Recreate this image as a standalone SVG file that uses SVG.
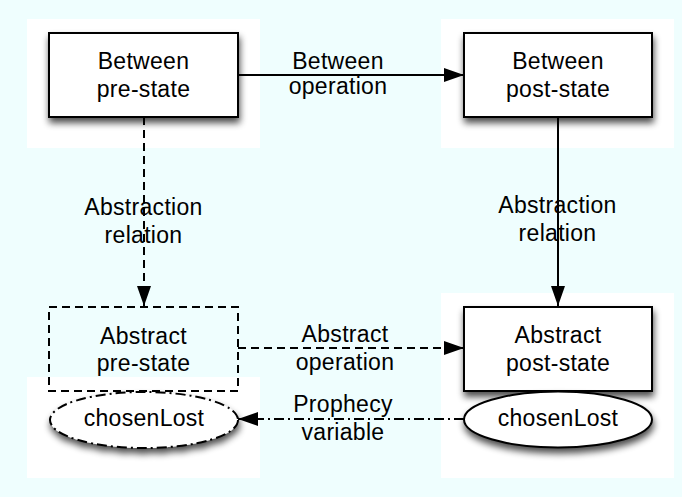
<svg xmlns="http://www.w3.org/2000/svg" width="682" height="497" viewBox="0 0 682 497">
<style>
text{font-family:"Liberation Sans",Arial,sans-serif;font-size:23px;fill:#000;text-anchor:middle;letter-spacing:0.3px}
.box{fill:#fff;stroke:#000;stroke-width:2}
.dbox{fill:none;stroke:#000;stroke-width:2;stroke-dasharray:8,5}
.ell{fill:#fff;stroke:#000;stroke-width:2}
.dd{stroke-dasharray:10,4,2,4}
.edge{fill:none;stroke:#000;stroke-width:2}
.dash{stroke-dasharray:8,5}
.dashdot{stroke-dasharray:10,4,2,4}
.bg{fill:#fff}
</style>
<defs>
<filter id="sh" x="-20%" y="-30%" width="140%" height="170%">
<feGaussianBlur in="SourceAlpha" stdDeviation="3.5"/>
<feOffset dx="1" dy="5" result="b"/>
<feComponentTransfer><feFuncA type="linear" slope="0.7"/></feComponentTransfer>
<feMerge><feMergeNode/><feMergeNode in="SourceGraphic"/></feMerge>
</filter>
<marker id="ah" markerWidth="20" markerHeight="14" refX="20" refY="7" orient="auto" markerUnits="userSpaceOnUse">
<path d="M0,0 L20,7 L0,14 Z" fill="#000"/>
</marker>
</defs>
<rect width="682" height="497" fill="#effefe"/>
<g id="backgrounds">
<rect class="bg" x="27" y="19" width="233" height="129"/>
<rect class="bg" x="441" y="19" width="233" height="129"/>
<rect class="bg" x="27" y="377" width="233" height="101"/>
<rect class="bg" x="441" y="293" width="233" height="185"/>
</g>
<g id="connectors">
<line class="edge" x1="238" y1="75" x2="464" y2="75" marker-end="url(#ah)"/>
<line class="edge dash" x1="144" y1="117" x2="144" y2="306" marker-end="url(#ah)"/>
<line class="edge" x1="558" y1="117" x2="558" y2="306" marker-end="url(#ah)"/>
<line class="edge dash" x1="238" y1="348" x2="464" y2="348" marker-end="url(#ah)"/>
<line class="edge dashdot" x1="464" y1="419" x2="238" y2="419" marker-end="url(#ah)"/>
<text x="338" y="69">Between</text>
<text x="338" y="94">operation</text>
<text x="143.5" y="215">Abstraction</text>
<text x="143.5" y="243">relation</text>
<text x="557.5" y="213">Abstraction</text>
<text x="557.5" y="241">relation</text>
<text x="345" y="342">Abstract</text>
<text x="345" y="370">operation</text>
<text x="343" y="412">Prophecy</text>
<text x="343" y="440">variable</text>
</g>
<g id="between-pre">
<rect class="box" x="49" y="33" width="189" height="84" filter="url(#sh)"/>
<text x="143.5" y="69">Between</text>
<text x="143.5" y="97">pre-state</text>
</g>
<g id="between-post">
<rect class="box" x="464" y="33" width="188" height="84" filter="url(#sh)"/>
<text x="558" y="69">Between</text>
<text x="558" y="97">post-state</text>
</g>
<g id="abstract-pre">
<rect class="dbox" x="49" y="307" width="189" height="84"/>
<text x="143.5" y="344">Abstract</text>
<text x="143.5" y="371">pre-state</text>
</g>
<g id="abstract-post">
<rect class="box" x="464" y="307" width="188" height="84" filter="url(#sh)"/>
<text x="558" y="343">Abstract</text>
<text x="558" y="371">post-state</text>
</g>
<g id="chosenLost-left">
<ellipse class="ell dd" cx="144" cy="420" rx="94" ry="28" filter="url(#sh)"/>
<text x="144" y="426">chosenLost</text>
</g>
<g id="chosenLost-right">
<ellipse class="ell" cx="558" cy="419.5" rx="94" ry="28" filter="url(#sh)"/>
<text x="558" y="426">chosenLost</text>
</g>
</svg>
